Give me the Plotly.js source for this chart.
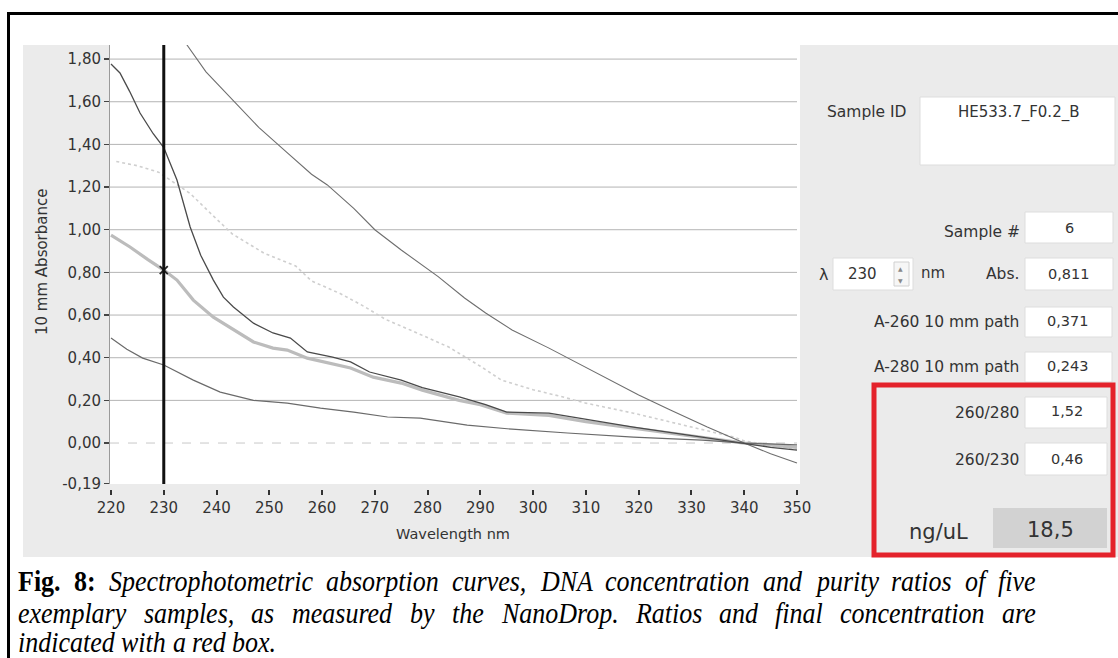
<!DOCTYPE html>
<html>
<head>
<meta charset="utf-8">
<script src="https://cdn.plot.ly/plotly-3.0.1.min.js"></script>
<style>html,body{margin:0;padding:0;background:#fff;}#chart{width:1118px;height:658px;}</style>
</head>
<body>
<div id="chart"></div>
<script>
// ---- data ----
const xTicks = [220,230,240,250,260,270,280,290,300,310,320,330,340,350];
const yTickVals = [-0.19,0,0.2,0.4,0.6,0.8,1.0,1.2,1.4,1.6,1.8];
const yTickText = ["-0,19","0,00","0,20","0,40","0,60","0,80","1,00","1,20","1,40","1,60","1,80"];
const yGrid = [0,0.2,0.4,0.6,0.8,1.0,1.2,1.4,1.6,1.8];

const upperWl  = [232,234.4,238,243,248,253,258,261,266,270,275,282,287,291,296,303,310,315,320,326,333,340,345,350];
const upperAbs = [1.93,1.866,1.74,1.61,1.48,1.37,1.26,1.21,1.10,1.0,0.905,0.78,0.68,0.61,0.53,0.445,0.356,0.29,0.225,0.155,0.075,0.0,-0.05,-0.094];

const darkWl  = [220,221.7,223.5,225.5,228,230,232.5,235,237,239.4,241.3,243.2,247,250.7,254,257.2,262,265.4,269,275,279,286,291,295,303,310,319,332,340,345,350];
const darkAbs = [1.777,1.735,1.65,1.547,1.45,1.385,1.233,1.013,0.88,0.764,0.684,0.638,0.562,0.516,0.492,0.427,0.403,0.38,0.333,0.295,0.26,0.216,0.18,0.145,0.14,0.11,0.075,0.028,0.0,-0.02,-0.033];

const dotWl  = [221,225,229,235,240,243,249,255,258,263.5,268,272,278,284,286,290,294,300,305,310,319,327,338,340,350];
const dotAbs = [1.32,1.30,1.27,1.17,1.05,0.98,0.89,0.83,0.76,0.70,0.64,0.58,0.516,0.45,0.42,0.36,0.295,0.25,0.22,0.187,0.14,0.094,0.028,0.01,-0.03];

const thickWl  = [220,223.6,227,230,232.5,235.6,239.4,243.2,247,250.7,253.4,257.2,261.6,265.4,269.7,275,279,286,290,295,303,310,319,332,340,350];
const thickAbs = [0.975,0.919,0.86,0.811,0.764,0.67,0.59,0.53,0.474,0.445,0.436,0.398,0.375,0.352,0.309,0.281,0.248,0.2,0.18,0.14,0.13,0.10,0.07,0.025,0.0,-0.02];

const lowWl  = [220,223,226,230,235.6,240.7,247,253.4,259.7,266,272.4,278.6,287.5,296,306.5,319,332,340,350];
const lowAbs = [0.492,0.44,0.398,0.366,0.295,0.239,0.2,0.187,0.164,0.145,0.122,0.117,0.084,0.065,0.047,0.028,0.014,0.0,-0.009];

const cursorNm = 230;
const cursorAbs = 0.811;

const panelLabels = ["Sample ID","Sample #","Abs.","A-260 10 mm path","A-280 10 mm path","260/280","260/230","ng/uL"];
const panelValues = ["HE533.7_F0.2_B","6","0,811","0,371","0,243","1,52","0,46","18,5"];
const lambdaValue = "230";

const captionBold = "Fig. 8:";
const captionLines = [
  "Spectrophotometric absorption curves, DNA concentration and purity ratios of five",
  "exemplary samples, as measured by the NanoDrop. Ratios and final concentration are",
  "indicated with a red box."
];

// ---- geometry helpers (pixel -> paper) ----
const L = 110, R = 318, T = 45, B = 169, W = 1118, H = 658;
const PW = W - L - R, PH = H - T - B;
const px = x => (x - L) / PW;
const py = y => (H - B - y) / PH;
const SANS = "DejaVu Sans";
const SERIF = "Liberation Serif";

function rect(x0, y0, x1, y1, fill, line, lw, layer) {
  return {type: "rect", xref: "paper", yref: "paper", x0: px(x0), x1: px(x1), y0: py(y1), y1: py(y0),
          fillcolor: fill, line: {color: line || "rgba(0,0,0,0)", width: lw || 0}, layer: layer || "below"};
}
function txt(text, x, y, xanchor, size, color, extra) {
  return Object.assign({text: text, xref: "paper", yref: "paper", x: px(x), y: py(y), xanchor: xanchor || "center",
          yanchor: "middle", showarrow: false, font: {family: SANS, size: size || 15, color: color || "#333"}}, extra || {});
}

const shapes = [];
shapes.push(rect(23, 45, 1118, 557, "#ebebeb"));
shapes.push(rect(110, 45, 800, 484, "#ffffff"));
yGrid.forEach(v => shapes.push({type: "line", xref: "paper", yref: "y", x0: 0, x1: px(797), y0: v, y1: v,
  line: {color: v === 0 ? "#c8c8c8" : "#b4b4b4", width: 1, dash: v === 0 ? "dash" : "solid"}, layer: "below"}));
shapes.push(rect(920, 97, 1115, 165, "#ffffff", "#dddddd", 1));
shapes.push(rect(1025, 212, 1113, 243, "#ffffff", "#dddddd", 1));
shapes.push(rect(833, 258, 913, 290, "#ffffff", "#dddddd", 1));
shapes.push(rect(894, 262, 909, 286, "#f6f6f6", "#d0d0d0", 1));
shapes.push(rect(1025, 258, 1113, 290, "#ffffff", "#dddddd", 1));
shapes.push(rect(1025, 307, 1112, 337, "#ffffff", "#dddddd", 1));
shapes.push(rect(1025, 352, 1112, 382, "#ffffff", "#dddddd", 1));
shapes.push(rect(1025, 397, 1107, 428, "#ffffff", "#dddddd", 1));
shapes.push(rect(1025, 443, 1107, 475, "#ffffff", "#dddddd", 1));
shapes.push(rect(993, 508, 1107, 548, "#d2d2d2"));
shapes.push(rect(874, 385, 1113, 555, "rgba(0,0,0,0)", "#e4222b", 5, "above"));
shapes.push({type: "line", xref: "paper", yref: "paper", x0: px(7), x1: px(1118), y0: py(13.5), y1: py(13.5), line: {color: "#000", width: 3}});
shapes.push({type: "line", xref: "paper", yref: "paper", x0: px(8.5), x1: px(8.5), y0: py(12), y1: py(658), line: {color: "#000", width: 3}});
shapes.push({type: "line", xref: "x", yref: "paper", x0: cursorNm, x1: cursorNm, y0: py(484), y1: 1, line: {color: "#111", width: 3}, layer: "above"});

const ann = [];
ann.push(txt("10 mm Absorbance", 42, 262, "center", 15, "#333", {textangle: -90}));
ann.push(txt("Wavelength nm", 453, 534, "center", 14.5, "#333"));
ann.push(txt(panelLabels[0], 867, 112, "center", 15.5));
ann.push(txt(panelValues[0], 1018, 112, "center", 15));
ann.push(txt(panelLabels[1], 1022, 232, "right", 15.5));
ann.push(txt(panelValues[1], 1069, 228, "center", 14.5));
ann.push(txt("λ", 823, 274, "center", 16));
ann.push(txt(lambdaValue, 863, 274, "center", 15));
ann.push(txt("▲", 901, 268, "center", 6, "#888"));
ann.push(txt("▼", 901, 280, "center", 6, "#888"));
ann.push(txt("nm", 933, 273, "center", 15));
ann.push(txt(panelLabels[2], 1021, 274, "right", 15.5));
ann.push(txt(panelValues[2], 1069, 274, "center", 14.5));
ann.push(txt(panelLabels[3], 1021, 322, "right", 15.5));
ann.push(txt(panelValues[3], 1068, 321, "center", 14.5));
ann.push(txt(panelLabels[4], 1021, 367, "right", 15.5));
ann.push(txt(panelValues[4], 1068, 366, "center", 14.5));
ann.push(txt(panelLabels[5], 1021, 413, "right", 15.5));
ann.push(txt(panelValues[5], 1067, 411, "center", 14.5));
ann.push(txt(panelLabels[6], 1021, 460, "right", 15.5));
ann.push(txt(panelValues[6], 1067, 459, "center", 14.5));
ann.push(txt(panelLabels[7], 938, 532, "center", 21));
ann.push(txt(panelValues[7], 1050, 530, "center", 21));

// ---- justified caption (word by word) ----
const CAP_SIZE = 26, CAP_LEFT = 17, CAP_RIGHT = 1035, CAP_Y = [581, 613, 642];
const cv = document.createElement("canvas").getContext("2d");
function wordWidth(w, bold) {
  cv.font = (bold ? "bold " : "italic ") + CAP_SIZE + "px '" + SERIF + "'";
  return cv.measureText(w).width;
}
const captionIdx = [];
function addCaptionLine(tokens, yPix, justify) {
  const widths = tokens.map(t => wordWidth(t.w, t.b));
  const total = widths.reduce((a, b) => a + b, 0);
  const gap = justify ? (CAP_RIGHT - CAP_LEFT - total) / (tokens.length - 1) : wordWidth(" ", false);
  let x = CAP_LEFT;
  tokens.forEach((t, i) => {
    captionIdx.push(ann.length);
    ann.push(txt(t.b ? "<b>" + t.w + "</b>" : "<i>" + t.w + "</i>", x, yPix, "left", CAP_SIZE, "#000",
      {font: {family: SERIF, size: CAP_SIZE, color: "#000"}, borderpad: 0}));
    x += widths[i] + gap;
  });
}
const line1 = captionBold.split(" ").map(w => ({w: w, b: true})).concat(captionLines[0].split(" ").map(w => ({w: w, b: false})));
addCaptionLine(line1, CAP_Y[0], true);
addCaptionLine(captionLines[1].split(" ").map(w => ({w: w, b: false})), CAP_Y[1], true);
addCaptionLine(captionLines[2].split(" ").map(w => ({w: w, b: false})), CAP_Y[2], false);

function curve(x, y, color, width, dash) {
  return {type: "scatter", mode: "lines", x: x, y: y, line: {color: color, width: width, dash: dash || "solid"}, hoverinfo: "skip"};
}
const traces = [
  curve(dotWl, dotAbs, "#cfcfcf", 1.6, "dot"),
  curve(thickWl, thickAbs, "#bcbcbc", 3.2),
  curve(lowWl, lowAbs, "#6a6a6a", 1.2),
  curve(upperWl, upperAbs, "#6e6e6e", 1.1),
  curve(darkWl, darkAbs, "#4a4a4a", 1.3),
  {type: "scatter", mode: "markers", x: [cursorNm], y: [cursorAbs],
   marker: {symbol: "x-thin-open", size: 8, color: "#222", line: {color: "#222", width: 1.8}}, hoverinfo: "skip"}
];

const layout = {
  width: W, height: H,
  margin: {l: L, r: R, t: T, b: B, pad: 0},
  paper_bgcolor: "#ffffff", plot_bgcolor: "rgba(0,0,0,0)",
  showlegend: false, separators: ",.",
  xaxis: {range: [219.81, 350.57], tickvals: xTicks, ticks: "outside", ticklen: 5, tickwidth: 2, tickcolor: "#333",
          showgrid: false, zeroline: false, showline: false, anchor: "free", position: 0,
          tickfont: {family: SANS, size: 15, color: "#333"}},
  yaxis: {domain: [5 / PH, 1], range: [-0.192, 1.866], tickvals: yTickVals, ticktext: yTickText,
          ticks: "outside", ticklen: 5, tickwidth: 1.5, tickcolor: "#444", showgrid: false, zeroline: false,
          showline: true, linecolor: "#9a9a9a", linewidth: 1, tickfont: {family: SANS, size: 15, color: "#333"}},
  shapes: shapes, annotations: ann
};
Plotly.newPlot("chart", traces, layout, {staticPlot: true, displayModeBar: false}).then(gd => {
  captionIdx.forEach(i => {
    const t = gd.querySelector('.annotation[data-index="' + i + '"] text');
    if (t) {
      t.style.transformBox = "fill-box";
      t.style.transformOrigin = "center";
      t.style.transform = "scaleY(1.1)";
    }
  });
});
</script>
</body>
</html>
